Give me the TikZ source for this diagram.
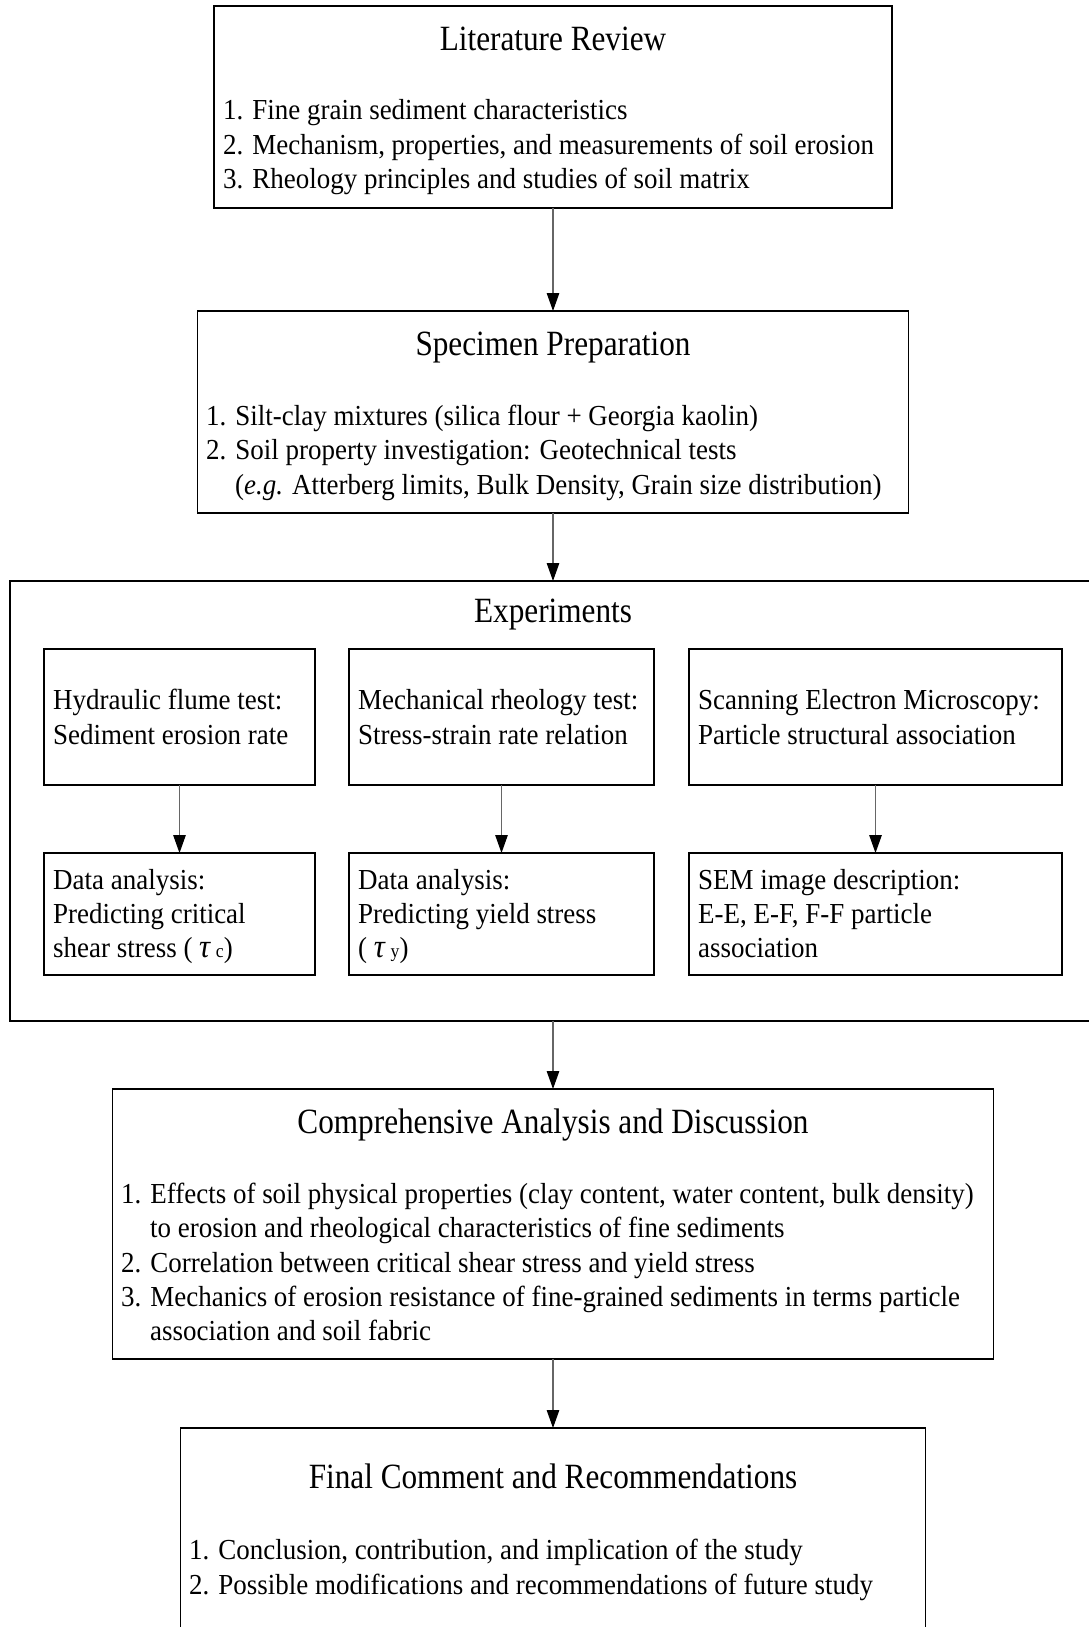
\documentclass[tikz,border=0pt]{standalone}
\usepackage{fontspec}
\setmainfont[FakeStretch=0.93]{Liberation Serif}
\newfontfamily\headfont[FakeStretch=0.88]{Liberation Serif}
\usetikzlibrary{arrows.meta}

\tikzset{
  box/.style={draw, line width=1.5pt, inner sep=0pt, outer sep=0pt, anchor=north},
  heading/.style={font=\headfont\fontsize{35.5}{40}\selectfont, anchor=base, inner sep=0pt},
  item/.style={font=\fontsize{29}{34}\selectfont, anchor=base west, inner sep=0pt},
  flow/.style={draw=black!60, line width=1.2pt,
    -{Triangle[length=18pt, width=12.5pt, color=black]}}
}
\newcommand{\tauvar}[1]{{\fontsize{33}{34}\selectfont\textit{τ}}\,{\fontsize{19}{20}\selectfont #1}}

\begin{document}
\begin{tikzpicture}[x=1pt, y=-1pt]

  \path[use as bounding box, clip] (0,0) rectangle (1089,1627);

  % Literature review
  \node[box, minimum width=678pt, minimum height=202pt] (lit) at (553,6) {};
  \node[heading] (lit-t) at (553,51) {Literature Review};
  \node[item] (lit-1) at (223,120) {1. Fine grain sediment characteristics};
  \node[item] (lit-2) at (223,154) {2. Mechanism, properties, and measurements of soil erosion};
  \node[item] (lit-3) at (223,188) {3. Rheology principles and studies of soil matrix};

  % Specimen preparation
  \node[box, minimum width=711pt, minimum height=202pt] (spec) at (553,311) {};
  \node[heading] (spec-t) at (553,355) {Specimen Preparation};
  \node[item] (spec-1) at (206,425) {1. Silt-clay mixtures (silica flour + Georgia kaolin)};
  \node[item] (spec-2) at (206,459) {2. Soil property investigation: Geotechnical tests};
  \node[item] (spec-3) at (235,494) {(\textit{e.g.} Atterberg limits, Bulk Density, Grain size distribution)};

  % Experiments (outer frame)
  \node[box, minimum width=1086pt, minimum height=440pt] (exp) at (553,581) {};
  \node[heading] (exp-t) at (553,622) {Experiments};

  % tests
  \node[box, minimum width=271pt, minimum height=136pt] (flume) at (179.5,649) {};
  \node[box, minimum width=305pt, minimum height=136pt] (rheo) at (501.5,649) {};
  \node[box, minimum width=373pt, minimum height=136pt] (sem) at (875.5,649) {};
  \node[item] (flume-1) at (53,709) {Hydraulic flume test:};
  \node[item] (flume-2) at (53,744) {Sediment erosion rate};
  \node[item] (rheo-1) at (358,709) {Mechanical rheology test:};
  \node[item] (rheo-2) at (358,744) {Stress-strain rate relation};
  \node[item] (sem-1) at (698,709) {Scanning Electron Microscopy:};
  \node[item] (sem-2) at (698,744) {Particle structural association};

  % analysis of the tests
  \node[box, minimum width=271pt, minimum height=122pt] (flume-da) at (179.5,853) {};
  \node[box, minimum width=305pt, minimum height=122pt] (rheo-da) at (501.5,853) {};
  \node[box, minimum width=373pt, minimum height=122pt] (sem-da) at (875.5,853) {};
  \node[item] (flume-da1) at (53,889) {Data analysis:};
  \node[item] (flume-da2) at (53,923) {Predicting critical};
  \node[item] (flume-da3) at (53,957) {shear stress ( \tauvar{c})};
  \node[item] (rheo-da1) at (358,889) {Data analysis:};
  \node[item] (rheo-da2) at (358,923) {Predicting yield stress};
  \node[item] (rheo-da3) at (358,957) {( \tauvar{y})};
  \node[item] (sem-da1) at (698,889) {SEM image description:};
  \node[item] (sem-da2) at (698,923) {E-E, E-F, F-F particle};
  \node[item] (sem-da3) at (698,957) {association};

  % Comprehensive analysis
  \node[box, minimum width=881pt, minimum height=270pt] (comp) at (553,1089) {};
  \node[heading] (comp-t) at (553,1133) {Comprehensive Analysis and Discussion};
  \node[item] (comp-1) at (121,1203) {1. Effects of soil physical properties (clay content, water content, bulk density)};
  \node[item] (comp-1b) at (150,1237) {to erosion and rheological characteristics of fine sediments};
  \node[item] (comp-2) at (121,1272) {2. Correlation between critical shear stress and yield stress};
  \node[item] (comp-3) at (121,1306) {3. Mechanics of erosion resistance of fine-grained sediments in terms particle};
  \node[item] (comp-3b) at (150,1340) {association and soil fabric};

  % Final comment
  \node[box, minimum width=745pt, minimum height=260pt] (final) at (553,1428) {};
  \node[heading] (final-t) at (553,1488) {Final Comment and Recommendations};
  \node[item] (final-1) at (189,1559) {1. Conclusion, contribution, and implication of the study};
  \node[item] (final-2) at (189,1594) {2. Possible modifications and recommendations of future study};

  % Arrows
  \draw[flow] (lit.south) -- (spec.north);
  \draw[flow] (spec.south) -- (exp.north);
  \draw[flow] (flume.south) -- (flume-da.north);
  \draw[flow] (rheo.south) -- (rheo-da.north);
  \draw[flow] (sem.south) -- (sem-da.north);
  \draw[flow] (exp.south) -- (comp.north);
  \draw[flow] (comp.south) -- (final.north);

\end{tikzpicture}
\end{document}
